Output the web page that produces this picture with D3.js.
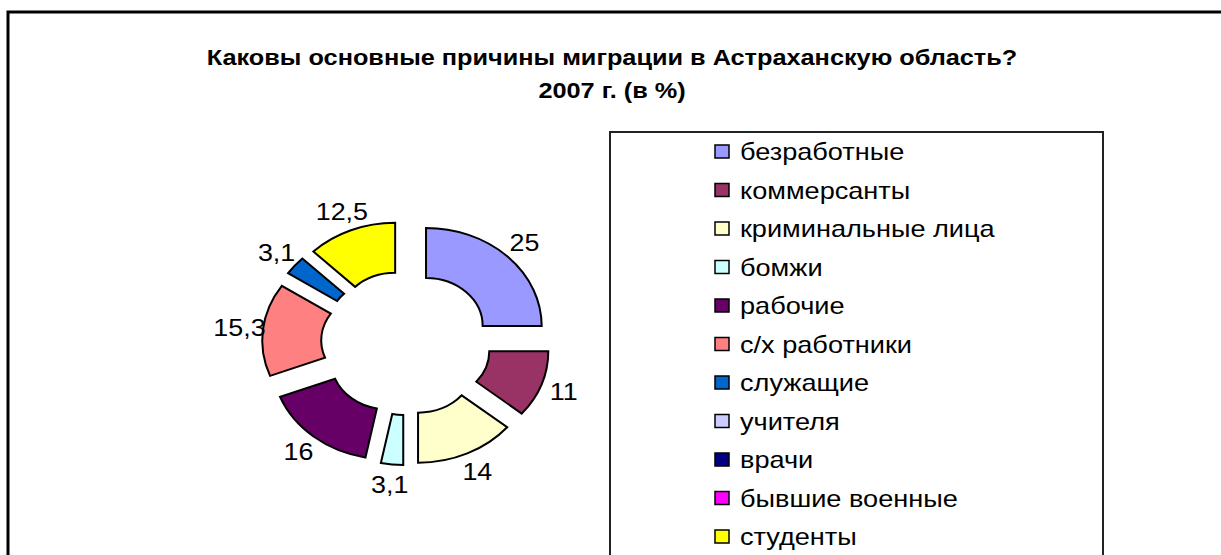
<!DOCTYPE html>
<html>
<head>
<meta charset="utf-8">
<script src="https://cdn.jsdelivr.net/npm/d3@7"></script>
<style>
  html, body { margin: 0; padding: 0; background: #fff; }
  svg { display: block; font-family: "Liberation Sans", Arial, sans-serif; }
</style>
</head>
<body>
<div id="chart"></div>
<script>
const titleLines = ['Каковы основные причины миграции в Астраханскую область?', '2007 г. (в %)'];
const categories = ['безработные', 'коммерсанты', 'криминальные лица', 'бомжи', 'рабочие',
  'с/х работники', 'служащие', 'учителя', 'врачи', 'бывшие военные', 'студенты'];
const values = [25, 11, 14, 3.1, 16, 15.3, 3.1, 0, 0, 0, 12.5];
const valueLabels = ['25', '11', '14', '3,1', '16', '15,3', '3,1', '', '', '', '12,5'];
const colors = ['#9999ff', '#993366', '#ffffcc', '#ccffff', '#660066',
  '#ff8080', '#0066cc', '#ccccff', '#000080', '#ff00ff', '#ffff00'];

const W = 1221, H = 555;
const sx = 1.18; // source picture is stretched sideways

const svg = d3.select('#chart').append('svg')
  .attr('width', W)
  .attr('height', H);

// outer chart frame (runs off the right and bottom edges)
svg.append('rect')
  .attr('x', 8).attr('y', 12)
  .attr('width', 1240).attr('height', 600)
  .attr('fill', '#fff')
  .attr('stroke', '#000')
  .attr('stroke-width', 3);

// title
svg.append('g')
  .selectAll('text')
  .data(titleLines)
  .enter().append('text')
  .attr('transform', (d, i) => `translate(612,${65 + i * 33}) scale(1.15,1)`)
  .attr('text-anchor', 'middle')
  .style('font-size', '22px')
  .style('font-weight', 'bold')
  .text(d => d);

// doughnut
const data = categories.map((name, i) => ({ name, value: values[i], label: valueLabels[i], color: colors[i] }));
const cx = 406, cy = 343;
const inner = 48, outer = 98, explode = 24, labelR = 142;

const pie = d3.pie().sort(null).value(d => d.value);
const arc = d3.arc().innerRadius(inner).outerRadius(outer);
const arcs = pie(data).filter(d => d.data.value > 0);
const mid = d => (d.startAngle + d.endAngle) / 2;

const pieG = svg.append('g')
  .attr('transform', `translate(${cx},${cy}) scale(${sx},1)`);

pieG.selectAll('path')
  .data(arcs)
  .enter().append('path')
  .attr('transform', d => `translate(${Math.sin(mid(d)) * explode},${-Math.cos(mid(d)) * explode})`)
  .attr('d', arc)
  .attr('fill', d => d.data.color)
  .attr('stroke', '#000')
  .attr('stroke-width', 2)
  .attr('vector-effect', 'non-scaling-stroke')
  .attr('stroke-linejoin', 'miter');

svg.append('g')
  .selectAll('text')
  .data(arcs)
  .enter().append('text')
  .attr('transform', d => `translate(${cx + sx * labelR * Math.sin(mid(d))},${cy - labelR * Math.cos(mid(d))}) scale(1.12,1)`)
  .attr('text-anchor', 'middle')
  .attr('dy', '0.35em')
  .style('font-size', '24px')
  .text(d => d.data.label);

// legend
const legendBox = { x: 610, y: 132, w: 493, h: 500 };
svg.append('rect')
  .attr('x', legendBox.x).attr('y', legendBox.y)
  .attr('width', legendBox.w).attr('height', legendBox.h)
  .attr('fill', '#fff')
  .attr('stroke', '#222')
  .attr('stroke-width', 2);

const ly = d3.scalePoint()
  .domain(categories)
  .range([152, 537]);

const items = svg.append('g').selectAll('g')
  .data(data)
  .enter().append('g')
  .attr('transform', d => `translate(0,${ly(d.name)})`);

items.append('rect')
  .attr('x', 715).attr('y', -7)
  .attr('width', 14).attr('height', 13)
  .attr('fill', d => d.color)
  .attr('stroke', '#000')
  .attr('stroke-width', 1.5);

items.append('text')
  .attr('transform', `translate(740,0) scale(${sx},1)`)
  .attr('dy', '0.36em')
  .style('font-size', '23px')
  .text(d => d.name);
</script>
</body>
</html>
